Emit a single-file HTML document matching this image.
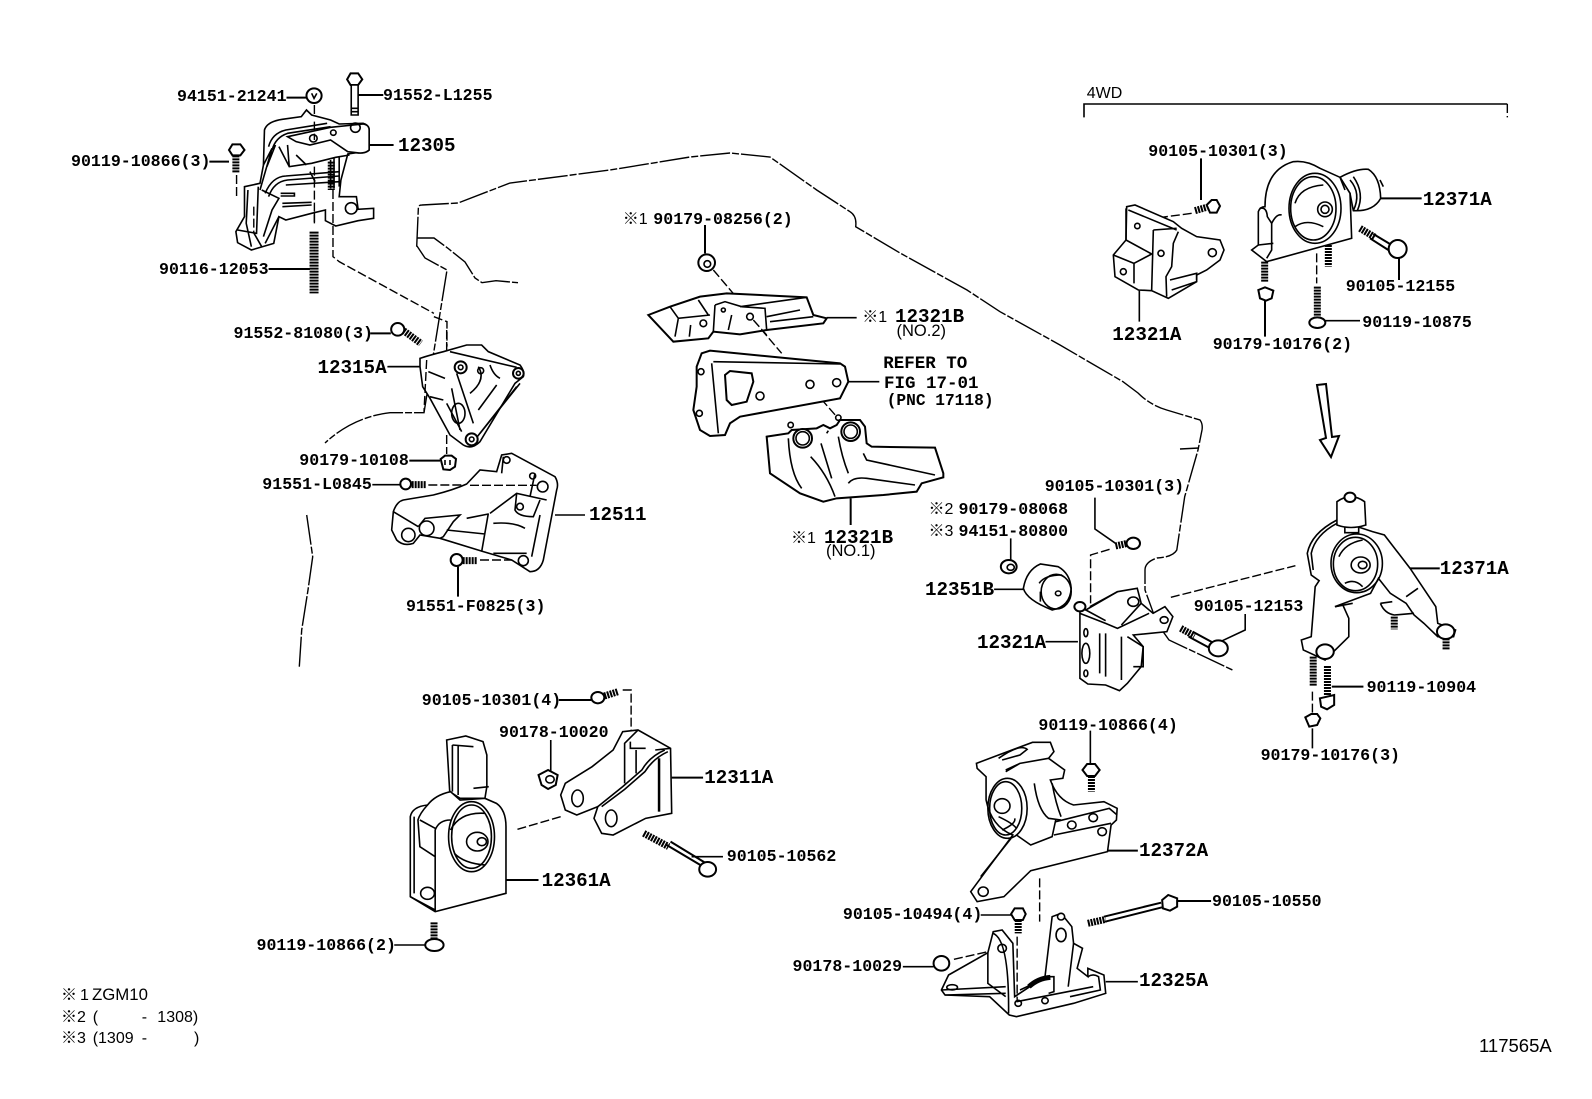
<!DOCTYPE html>
<html><head><meta charset="utf-8"><style>
html,body{margin:0;padding:0;background:#fff}
svg{display:block}
path,circle,ellipse{fill:none;stroke:#000;stroke-width:1.6;vector-effect:non-scaling-stroke}
.w{fill:#fff}
.d{stroke-dasharray:9 3;stroke-width:1.4}
.o{stroke-dasharray:30 2 7 2;stroke-width:1.4}
.s{stroke-width:7;stroke-dasharray:2 1}
.h{stroke-width:5}
.m{stroke-width:2}
text{font-family:"Liberation Mono",monospace;font-weight:bold;font-size:16.6px;fill:#000;stroke:none}
.b{font-size:19.2px}
.r{font-size:17.5px}
.n{font-family:"Liberation Sans","Noto Sans CJK JP",sans-serif;font-weight:normal;font-size:16px}
</style></head><body>
<svg width="1592" height="1099" viewBox="0 0 1592 1099" xmlns="http://www.w3.org/2000/svg">
<rect width="1592" height="1099" fill="#fff"/>

<!-- engine outline -->
<path class="o" d="M416.7 246.7L418.4 207Q419 205 422 205L458 203L510 183L610 170L690 157L730 153L770 157L816.7 190L850 211.7Q857 216 855.7 226.7L900 253L967 290L1000 311.7L1060 345L1123 381.7L1138 393Q1150 405 1166.7 410L1200 420Q1203 424 1202 430L1198 450L1184.7 496.7L1176.8 550Q1173 557 1157 558Q1145 562 1145 570L1145 590L1157 623L1169 640L1196.6 653L1234 670.7"/>
<path class="o" d="M416.7 238H434L447.6 248L465 262L475 278L482 282.7L496 280.7L518 282.7"/>
<path class="o" d="M417 246L425 258L447 270L424 412.7H390Q353 417 325 443"/>
<path class="o" d="M306.7 515L312.7 556.7L308 590L301.7 630L299.3 666.7"/>
<path d="M1180 449L1199 448"/>

<!-- Zoom 1 region -->
<g transform="translate(0,50) scale(0.34435,0.33333)">
<path class="d" d="M967 420V620L985 635L1260 790"/>
<path class="d" d="M1260 800L1298 815V890"/>
<path class="d" d="M913 165V520"/>
<path class="d" d="M687 375V445"/>
<path class="m" d="M832 143H890M1040 135H1113M608 335H665M1072 285H1143M780 657H900M1075 850H1135"/>
<path d="M1125 950H1220"/>
<circle class="w m" cx="912" cy="137" r="22"/><path d="M905 130L912 145L920 130"/>
<path class="w m" d="M1008 88L1018 70H1040L1052 88L1040 105H1018Z"/><path class="w" d="M1020 105H1040V195H1020Z"/><path d="M1020 175H1040M1020 185H1040"/>
<path class="w m" d="M665 300L675 283H698L710 300L698 316H675Z"/><path class="s" d="M685 316V368"/>
<path class="s" d="M912 545V730" style="stroke-width:9"/>
<circle class="w m" cx="1155" cy="838" r="19"/><path class="s" d="M1172 842L1222 880"/>
<!-- 12305 -->
<path class="w" d="M685 545L710 500L710 410L755 400L765 345L768 240Q775 215 820 208L875 200L890 180L905 195L960 210L985 222L1055 220Q1072 225 1072 240V300Q1060 312 1035 308L1010 312L990 390L985 440L1035 440L1040 478L1085 475L1085 505L1040 512L975 528L945 512L945 480L905 490L830 510L810 500L795 580L730 600L690 578Z"/>
<path class="w" d="M835 260L960 232L1055 222Q1072 225 1072 240V300Q1060 312 1035 308L1010 305L960 270L900 285L860 275Z"/>
<path d="M780 290Q790 250 830 240L950 220M790 300Q800 262 835 250L960 230M765 345L790 295L755 420M775 350L800 285"/>
<path d="M810 290L840 350L905 340L975 322L1015 315M860 315L890 345M835 285L840 350"/>
<path d="M770 430Q790 380 830 378L985 365M780 440Q795 395 835 390L985 378M830 405L985 395M900 365L915 395"/>
<path d="M760 420L810 445L790 480L765 560M815 430H855V438H815M820 460L905 457M820 470L905 465M810 500L770 580"/>
<path d="M750 410L745 550L690 540M720 420L715 520L730 590M735 545L760 590M985 322V410M970 325V415M960 330V415"/>
<circle cx="910" cy="265" r="11"/><circle cx="1032" cy="233" r="14"/><circle cx="968" cy="248" r="8"/><circle cx="1020" cy="475" r="17"/>
<path class="s" d="M962 335V420"/><path class="d" d="M967 420V520"/><path class="d" d="M913 215V270M913 350V520"/><path class="d" d="M737 470V550"/>
</g>

<!-- Zoom 2 region -->
<g transform="translate(240,330) scale(0.33333)">
<path class="d" d="M620 315V372M565 465H690M700 465H890M720 690H830"/>
<path class="d" d="M620 0V60"/>
<path d="M445 110H540M945 555H1035"/>
<path class="m" d="M508 392H600M654 710V800"/><path d="M397 464H480"/>
<path class="w" d="M540 85Q570 75 610 65L680 45H725L745 65L840 105Q855 125 850 140L825 160L720 335Q695 360 670 345L630 315L570 205L548 170L540 110Z"/>
<path d="M630 65L830 112M650 130L700 280M635 175L660 300M620 220L665 305M770 165L715 240M840 160L720 310M830 170L712 320M565 125L615 145M570 200L610 210M715 110Q740 150 690 190M750 105Q760 135 780 145"/>
<ellipse cx="655" cy="250" rx="20" ry="30"/><circle class="w m" cx="662" cy="112" r="18"/><circle class="w m" cx="835" cy="130" r="16"/><circle class="w m" cx="695" cy="328" r="18"/><circle cx="722" cy="122" r="9"/><circle cx="662" cy="112" r="7"/><circle cx="835" cy="130" r="6"/><circle cx="695" cy="328" r="7"/>
<path class="d" d="M560 90L552 245"/>
<path class="m w" d="M602 387L615 377H635L648 387L645 410L630 420L610 418Z"/><path d="M615 390V405M630 390V405"/>
<circle class="w m" cx="497" cy="462" r="16"/><path class="s" d="M515 464H560"/>
<circle class="w m" cx="650" cy="690" r="18"/><path class="s" d="M668 692H712"/>
<path class="w" d="M680 462L720 420L770 425L785 375L815 370L945 440Q957 460 950 480L910 690Q900 725 870 725L815 690L730 665L600 625L540 615L520 640Q490 650 470 630L455 600L460 545Q470 515 490 510L580 495Q640 480 680 462Z"/>
<path d="M460 545L535 590M535 590L555 565L660 555L640 575L610 620L600 625M620 600L735 612M680 565L745 552M745 550L725 665M750 550L830 490L920 510M830 490L825 540Q835 560 880 560L900 510M760 580Q820 575 855 595M900 555L875 680M760 670L860 670M885 430L870 500M790 380L785 430"/>
<circle cx="505" cy="615" r="20"/><circle class="w" cx="560" cy="595" r="22"/><circle cx="908" cy="470" r="16"/><circle cx="878" cy="438" r="9"/><circle cx="850" cy="692" r="15"/><circle cx="800" cy="390" r="10"/><circle cx="840" cy="530" r="10"/>
<path class="d" d="M690 466H890"/>
</g>

<!-- Zoom 3 region -->
<g transform="translate(600,190) scale(0.33333)">
<path class="m" d="M315 105V190M752 925V1005"/>
<path d="M680 383H770M745 575H838"/>
<circle class="w m" cx="320" cy="218" r="25"/><circle cx="322" cy="222" r="10"/>
<path class="d" d="M340 240L425 340M460 390L545 490M640 600L710 680"/>
<path class="w m" d="M305 490L330 482L720 520L735 530L745 575L720 625L420 680L390 700L375 735L330 738L300 720L280 660L290 590V530Z"/>
<path d="M335 520L355 730M340 515L720 522"/>
<path class="m" d="M375 555L390 543L455 550L460 575L440 635L395 645L380 630Z"/>
<circle cx="480" cy="618" r="12"/><circle cx="630" cy="583" r="12"/><circle cx="710" cy="578" r="12"/><circle cx="303" cy="545" r="9"/><circle cx="298" cy="670" r="9"/>
<path class="w m" d="M145 375L210 350L300 320L380 310L620 322L640 375L680 385L670 400L500 420L420 433L340 425L325 445L220 455Z"/>
<path d="M210 350L235 385L330 375M235 385L225 440M295 330L325 375M345 345L340 425M345 345L375 335L425 350L495 355L500 420M500 380L600 360M510 395L640 380M420 350L620 322M395 375L385 420M272 405L268 440"/>
<circle cx="310" cy="400" r="10"/><circle cx="450" cy="380" r="10"/><circle cx="370" cy="360" r="6"/>
<path class="d" d="M460 390L500 435"/>
<circle cx="572" cy="705" r="8"/><circle cx="715" cy="683" r="8"/>
<path class="w m" d="M500 740L565 730L575 720L650 715L670 705L690 715L710 705L720 690L780 690L795 710L800 760L815 770L1005 773L1030 850V862L965 880L950 905L850 915L710 925L670 935L600 910L510 850Z"/>
<circle class="w m" cx="608" cy="745" r="28"/><circle class="w m" cx="752" cy="725" r="28"/><circle cx="608" cy="745" r="20"/><circle cx="752" cy="725" r="20"/>
<path d="M565 745Q570 850 605 895M632 800Q680 850 705 920M663 760L695 865M715 740Q725 800 745 850M745 880Q760 860 800 865L945 885M790 790L800 810L1005 855M680 730L685 722"/>
</g>

<!-- Zoom 4 region -->
<g transform="translate(1060,80) scale(0.33333)">
<path d="M72 112V72H1342"/><path class="d" d="M1342 72V112"/>
<path class="d" d="M395 400L305 412M770 520V610"/>
<path class="m" d="M423 235V360M962 355H1085M615 662V770M1017 530V600"/><path d="M238 632V725M795 722H900"/>
<path class="w" d="M200 380L225 375L340 425L365 445L410 470L480 480L492 510L480 540L440 570L410 585V605L325 655L275 632L235 630L165 590L160 525L198 480Z"/>
<path d="M205 390L350 450M198 480L275 522M222 550L275 522M222 550V610M160 525L222 550M280 450L275 630M280 450L350 445M355 455L340 490L335 560L318 590L320 650M330 600L410 580V600M335 630L410 605M198 385V480"/>
<circle cx="232" cy="438" r="8"/><circle cx="190" cy="575" r="9"/><circle cx="303" cy="520" r="9"/><circle cx="457" cy="518" r="12"/>
<path class="s" d="M405 392L440 382"/>
<path class="w m" d="M440 375L455 360H470L480 378L470 398H450Z"/>
<path class="w" d="M840 292Q890 265 925 268Q960 290 962 355Q940 395 880 392L870 340Z"/>
<path d="M870 300Q905 340 880 392M880 290Q915 340 892 392M960 300L970 320"/>
<path class="w" d="M615 380Q615 270 700 245Q740 240 780 265L840 292L870 340L875 475L620 545L575 510L595 495V395Q600 380 615 380Z"/>
<ellipse cx="765" cy="385" rx="78" ry="105"/><ellipse cx="760" cy="385" rx="68" ry="95"/><circle cx="795" cy="388" r="22"/><circle cx="795" cy="388" r="12"/>
<path d="M705 370Q720 320 790 315M705 440Q740 415 790 440M600 385Q620 380 622 410L635 430Q650 400 665 405M635 430V510L620 535M595 495L640 490M840 292L855 330"/>
<path class="s" d="M614 545V605"/><path class="s" d="M805 495V560"/>
<path class="m w" d="M595 630L615 622L640 632L635 655L618 662L600 655Z"/>
<path class="s" d="M772 620V715"/><ellipse class="w m" cx="772" cy="728" rx="24" ry="16"/>
<path class="s" d="M900 445L945 472"/><path class="m" d="M940 462L995 495M930 475L985 510"/><circle class="w m" cx="1013" cy="507" r="27"/>
</g>
<path class="w m" d="M1317 385L1326 384L1332 437L1339 436L1331 457L1320 440L1326 438Z"/>

<!-- Zoom 5 region -->
<g transform="translate(900,460) scale(0.39541,0.33333)">
<path class="d" d="M530 268L482 285V430M685 412L1000 317M1043 695V760"/>
<path d="M493 113V207L545 250M280 235V300M238 388H312M368 545H450M873 462V510L810 545M1043 805V865"/>
<path class="m" d="M1092 680H1172M1285 325H1365"/>
<path class="s" d="M545 258L575 250"/><circle class="w m" cx="590" cy="250" r="17"/>
<circle class="w m" cx="275" cy="320" r="20"/><circle cx="280" cy="322" r="9"/>
<path class="w" d="M355 312Q320 330 312 385Q320 420 385 450Q430 440 433 385Q430 340 400 320Z"/>
<ellipse cx="395" cy="395" rx="38" ry="52"/><path d="M352 370Q365 345 410 345M355 395V425"/><circle cx="400" cy="400" r="7"/>
<path class="w" d="M455 445V655L475 672L520 675L555 692L575 670L610 620L615 560L590 525L675 515L690 470L670 440L640 460L610 430L600 385L550 395L470 450Z"/>
<path d="M455 460L520 490L550 505L630 460M470 450L520 482M480 440L550 395M560 495L610 430M505 520V640M520 520V650M560 530V660M575 530L615 560V620L590 620"/>
<ellipse cx="470" cy="580" rx="10" ry="30"/><ellipse cx="470" cy="518" rx="5" ry="12"/><ellipse cx="470" cy="640" rx="5" ry="10"/>
<circle class="w m" cx="455" cy="440" r="14"/><circle cx="590" cy="425" r="14"/><circle cx="668" cy="480" r="10"/>
<path class="s" d="M710 505L745 528"/><path class="m" d="M740 515L795 550M730 530L785 565"/><circle class="w m" cx="805" cy="565" r="24"/>
<path class="w" d="M1105 180Q1040 220 1030 280L1040 345L1060 362L1050 380L1040 530L1015 540L1020 570L1075 600L1135 530V475L1120 435L1100 440L1190 400L1210 355L1240 400L1280 430L1300 465L1325 490L1360 530H1400L1405 510L1360 490L1355 440L1290 325L1225 225L1195 215Z"/>
<path d="M1105 190Q1050 225 1040 280L1045 330"/>
<ellipse cx="1155" cy="310" rx="65" ry="88"/><ellipse cx="1152" cy="312" rx="56" ry="80"/><circle cx="1165" cy="315" r="24"/><circle cx="1170" cy="315" r="11"/>
<path d="M1110 290Q1125 250 1170 240M1125 370Q1150 355 1170 380M1215 430Q1225 460 1250 465L1300 460M1215 430L1245 425M1280 410L1310 385M1100 440L1145 430"/>
<path class="w" d="M1105 125Q1140 95 1175 125L1178 195Q1140 210 1105 195Z"/><path d="M1125 200V218H1160V200"/><circle class="w m" cx="1138" cy="112" r="14"/>
<path class="s" d="M1250 470V508"/><circle class="w m" cx="1380" cy="515" r="22"/><path class="s" d="M1381 535V570"/>
<path class="s" d="M1045 590V680"/>
<circle class="w m" cx="1075" cy="575" r="22"/>
<path class="s" d="M1081 618V705"/><path class="w m" d="M1062 715L1098 705V735L1080 748L1065 740Z"/>
<path class="w m" d="M1025 772L1040 762H1055L1063 775L1055 795L1035 800Z"/>
</g>

<!-- Zoom 6 region -->
<g transform="translate(240,670) scale(0.3827,0.33333)">
<path class="d" d="M1000 60H1022V180M725 478L838 440"/>
<path class="m" d="M833 90H918M695 630H780M1128 323H1210"/>
<path d="M812 210V305M1180 560H1262M403 825H482"/>
<circle class="w m" cx="935" cy="83" r="17"/><path class="s" d="M952 78L988 65"/>
<path class="w m" d="M780 315L805 300L830 315L825 345L805 357L788 345Z"/><circle cx="810" cy="328" r="11"/>
<path class="w" d="M1000 185L1040 180L1125 235L1128 430L1060 445L975 495L945 490L925 445L935 410L880 435L850 420L838 375L850 340L920 290L975 240Z"/>
<path d="M1040 180L1005 220V340M1035 240V310M1110 240Q1070 260 1050 300L1000 350L935 410M1118 245Q1080 265 1058 305L1005 358L945 410M1125 235L1085 240M1020 215V235H1060"/>
<path class="h" d="M1095 265V425" style="stroke-width:2.5"/>
<ellipse cx="882" cy="385" rx="15" ry="25"/><ellipse cx="970" cy="445" rx="15" ry="25"/>
<path class="w" d="M540 210L590 198L635 215L645 255V350L640 385H575L548 365Z"/>
<path d="M555 225V365M570 225V375M555 225L610 230M610 355L650 350"/>
<path class="w" d="M445 680V440Q450 410 490 405Q510 375 550 365L575 390L640 385L670 400Q695 420 695 470V670L510 725Z"/>
<path d="M510 725V480Q520 450 550 450M490 405Q470 430 465 450L470 530L510 560M445 680L510 720M470 450L510 475M455 440V670"/>
<ellipse cx="605" cy="500" rx="60" ry="105"/><ellipse cx="605" cy="500" rx="52" ry="95"/><circle cx="620" cy="515" r="28"/><circle cx="632" cy="515" r="12"/>
<path d="M550 480Q575 425 640 430M560 550Q585 580 640 585"/>
<circle cx="490" cy="670" r="18"/>
<path class="s" d="M1055 490L1120 530"/><path class="m" d="M1115 525L1210 590M1125 515L1215 578"/><circle class="w m" cx="1222" cy="598" r="22"/>
<path class="s" d="M507 757V810"/><ellipse class="w m" cx="508" cy="825" rx="24" ry="18"/>
</g>

<!-- Zoom 7 region -->
<g transform="translate(770,700) scale(0.35714,0.33333)">
<path class="d" d="M755 535V665M515 778L610 755"/>
<path class="m" d="M945 452H1030M1142 603H1235"/>
<path d="M897 92V190M590 645H675M372 800H458M940 845H1030"/>
<path class="w m" d="M875 210L888 192H910L923 210L910 228H888Z"/><path class="s" d="M900 228V275"/>
<path class="w" d="M578 190L640 165L735 127H785L795 155L780 175L825 210L820 235L785 240Q805 300 850 315L935 305L972 325L970 360L955 375L945 455L730 512L655 590L580 605L562 575L600 520L680 405Q620 380 605 300V230L580 205Z"/>
<ellipse cx="665" cy="325" rx="55" ry="90"/><ellipse cx="660" cy="325" rx="45" ry="80"/><circle cx="650" cy="318" r="22"/>
<path d="M640 350Q680 370 690 385M650 390Q690 370 685 355M640 175Q700 130 720 148L700 165L650 180M660 210L700 190L780 175M740 250Q750 330 780 355L815 360M790 250Q800 310 815 350M800 360L790 410L730 435L690 405M800 365L950 325L972 345M795 405L955 370M675 415L590 530M700 190L660 215"/>
<circle cx="845" cy="375" r="12"/><circle cx="905" cy="353" r="12"/><circle cx="930" cy="395" r="12"/><circle cx="597" cy="575" r="14"/>
<path class="s" d="M890 670L940 658"/><path class="m" d="M935 650L1095 608M938 665L1098 622"/>
<path class="w m" d="M1098 600L1115 585L1140 595L1140 620L1120 632L1100 625Z"/>
<path class="w m" d="M675 642L685 625H708L716 642L708 660H685Z"/><path class="s" d="M695 660V700"/>
<circle class="w m" cx="480" cy="790" r="22"/>
<path class="w" d="M480 870L500 825L610 758L625 695L650 690L680 730L685 890L770 830L780 740L790 650L815 640L845 680L850 730L875 745L860 805L890 830V805L935 825L940 880L850 910L690 950L670 945L615 890L490 885Z"/>
<path d="M610 758V850L660 890M625 700Q670 720 668 940M480 870L660 860M490 885L660 880M690 905L905 860M700 870L770 835M770 830H795V875L780 880M850 730L835 860M890 830Q905 820 920 830L925 870L840 890"/>
<circle cx="650" cy="745" r="12"/><ellipse cx="815" cy="705" rx="14" ry="20"/><ellipse cx="510" cy="862" rx="15" ry="8"/><circle cx="770" cy="902" r="9"/><circle cx="695" cy="910" r="9"/>
<circle class="w" cx="815" cy="650" r="10"/>
<path class="d" d="M692 710V900"/>
<path class="h" d="M725 860Q750 835 785 832" />
</g>

<!-- labels -->
<g transform="translate(0,-1)">
<text x="177" y="102">94151-21241</text>
<text x="383" y="101">91552-L1255</text>
<text x="398" y="152" class="b">12305</text>
<text x="71" y="167">90119-10866(3)</text>
<text x="159" y="275">90116-12053</text>
<text x="233.5" y="339">91552-81080(3)</text>
<text x="317.5" y="374" class="b">12315A</text>
<text x="299.3" y="466">90179-10108</text>
<text x="262.3" y="490">91551-L0845</text>
<text x="589" y="521" class="b">12511</text>
<text x="406" y="612">91551-F0825(3)</text>

<text x="622.7" y="225" class="n">※1</text>
<text x="653.3" y="225">90179-08256(2)</text>
<text x="862.3" y="323" class="n">※1</text>
<text x="895" y="323" class="b">12321B</text>
<text x="896.5" y="337" class="n" style="font-size:16.5px">(NO.2)</text>
<text x="883.3" y="369" class="r">REFER TO</text>
<text x="884" y="389" class="r">FIG 17-01</text>
<text x="886.7" y="406" style="font-size:16.2px">(PNC 17118)</text>
<text x="791" y="544" class="n">※1</text>
<text x="824" y="544" class="b">12321B</text>
<text x="826" y="557" class="n" style="font-size:16.5px">(NO.1)</text>

<text x="928.5" y="515" class="n">※2</text>
<text x="958.5" y="515">90179-08068</text>
<text x="928.5" y="537" class="n">※3</text>
<text x="958.5" y="537">94151-80800</text>
<text x="1044.7" y="492">90105-10301(3)</text>
<text x="925" y="596" class="b">12351B</text>
<text x="977" y="649" class="b">12321A</text>
<text x="1193.8" y="612">90105-12153</text>
<text x="1439.7" y="575" class="b">12371A</text>
<text x="1366.6" y="693">90119-10904</text>
<text x="1260.6" y="761">90179-10176(3)</text>
<text x="1038.4" y="731">90119-10866(4)</text>

<text x="1086.7" y="99" class="n">4WD</text>
<text x="1148.3" y="157">90105-10301(3)</text>
<text x="1422.7" y="206" class="b">12371A</text>
<text x="1112.3" y="341" class="b">12321A</text>
<text x="1345.7" y="292">90105-12155</text>
<text x="1362.3" y="328">90119-10875</text>
<text x="1212.7" y="350">90179-10176(2)</text>

<text x="421.8" y="706">90105-10301(4)</text>
<text x="499" y="738">90178-10020</text>
<text x="704.2" y="784" class="b">12311A</text>
<text x="726.8" y="862">90105-10562</text>
<text x="541.6" y="887" class="b">12361A</text>
<text x="256.5" y="951">90119-10866(2)</text>

<text x="1139" y="857" class="b">12372A</text>
<text x="1212" y="907">90105-10550</text>
<text x="842.9" y="920">90105-10494(4)</text>
<text x="792.5" y="972">90178-10029</text>
<text x="1139" y="987" class="b">12325A</text>

<text x="61" y="1001" class="n">※</text><text x="80" y="1001" class="n">1</text><text x="92" y="1001" class="n" style="font-size:16.8px">ZGM10</text>
<text x="61" y="1023" class="n">※2</text><text x="92.7" y="1023" class="n">(</text><text x="141.7" y="1023" class="n">-</text><text x="157.3" y="1023" class="n">1308)</text>
<text x="61" y="1044" class="n">※3</text><text x="92.7" y="1044" class="n">(1309</text><text x="141.7" y="1044" class="n">-</text><text x="194" y="1044" class="n">)</text>
<text x="1479" y="1053" class="n" style="font-size:18.5px">117565A</text>
</g>
</svg>
</body></html>
